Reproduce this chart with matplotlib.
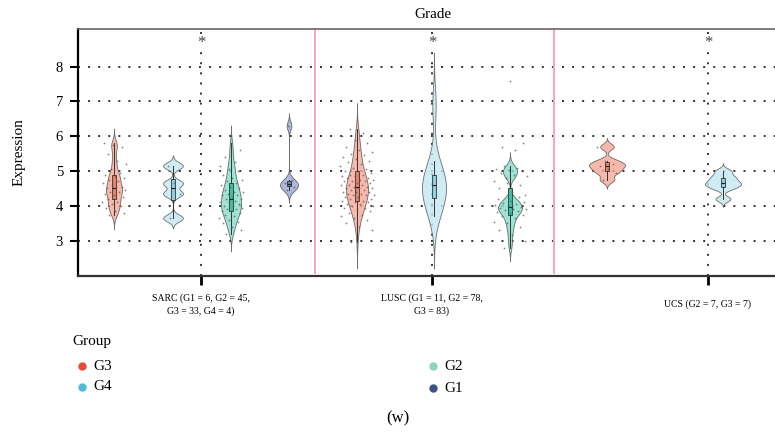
import numpy as np
import matplotlib
matplotlib.use('Agg')
import matplotlib.pyplot as plt
from matplotlib.lines import Line2D

plt.rcParams['font.family'] = ['Liberation Serif', 'DejaVu Serif']

# 分类与标签
categories = ['SARC', 'LUSC', 'UCS']
cat_labels = ['SARC (G1 = 6, G2 = 45,\nG3 = 33, G4 = 4)',
              'LUSC (G1 = 11, G2 = 78,\nG3 = 83)',
              'UCS (G2 = 7, G3 = 7)']
groups = ['G3', 'G4', 'G2', 'G1']
legend_colors = ['#E64B35', '#4DBBD5', '#91D1C2', '#3C5488']
fill_colors = {'G3': '#F5A896', 'G4': '#C4E8F2', 'G2': '#86DDC9', 'G1': '#97A5D2'}
box_colors = {'G3': '#E8826C', 'G4': '#8FCFE0', 'G2': '#3FBFA3', 'G1': '#6F7FB5'}

# 各组表达值
sarc_g3 = [3.75, 3.8, 3.85, 3.95, 4.0, 4.05, 4.1, 4.1, 4.2, 4.25, 4.3, 4.35, 4.4, 4.4,
           4.45, 4.5, 4.5, 4.55, 4.6, 4.65, 4.7, 4.75, 4.8, 4.85, 4.9, 4.95, 5.05, 5.2,
           5.3, 5.5, 5.7, 5.75, 5.8]
sarc_g4 = [3.65, 4.35, 4.65, 5.15]
sarc_g2 = [3.2, 3.3, 3.4, 3.5, 3.55, 3.6, 3.65, 3.7, 3.75, 3.8, 3.85, 3.85, 3.9, 3.9,
           3.95, 4.0, 4.0, 4.05, 4.1, 4.1, 4.15, 4.2, 4.2, 4.25, 4.3, 4.3, 4.35, 4.4,
           4.4, 4.45, 4.5, 4.55, 4.6, 4.65, 4.7, 4.75, 4.8, 4.9, 5.0, 5.05, 5.15, 5.25,
           5.4, 5.6, 5.8]
sarc_g1 = [4.45, 4.55, 4.6, 4.65, 4.75, 6.3]
lusc_g3 = [2.95, 3.3, 3.4, 3.5, 3.6, 3.65, 3.7, 3.75, 3.8, 3.85, 3.9, 3.95, 3.95, 4.0,
           4.0, 4.05, 4.05, 4.1, 4.1, 4.15, 4.15, 4.2, 4.2, 4.25, 4.25, 4.3, 4.3, 4.3,
           4.35, 4.35, 4.4, 4.4, 4.4, 4.45, 4.45, 4.5, 4.5, 4.5, 4.55, 4.55, 4.6, 4.6,
           4.6, 4.65, 4.65, 4.7, 4.7, 4.7, 4.75, 4.75, 4.8, 4.8, 4.85, 4.85, 4.9, 4.9,
           4.95, 5.0, 5.0, 5.05, 5.1, 5.15, 5.2, 5.25, 5.3, 5.35, 5.4, 5.45, 5.5, 5.55,
           5.6, 5.7, 5.8, 5.9, 6.0, 6.1, 6.2]
lusc_g4 = [3.7, 3.95, 4.15, 4.3, 4.45, 4.6, 4.7, 4.8, 4.95, 5.3, 6.9]
lusc_g2 = [2.8, 3.0, 3.15, 3.3, 3.4, 3.5, 3.55, 3.65, 3.7, 3.75, 3.8, 3.82, 3.85, 3.88,
           3.9, 3.92, 3.95, 3.97, 4.0, 4.02, 4.05, 4.08, 4.1, 4.15, 4.2, 4.25, 4.8, 4.85,
           4.9, 4.95, 5.0, 5.02, 5.05, 5.1, 5.15]
lusc_g2_extra_pts = [4.3, 4.4, 4.5, 4.6, 4.65, 4.7, 5.6, 5.7, 5.8, 7.6]
ucs_g3 = [4.75, 4.95, 5.05, 5.15, 5.2, 5.3, 5.7]
ucs_g4 = [4.2, 4.5, 4.6, 4.65, 4.75, 4.85, 5.0]

# (组, 数据, 额外散点, x位置, 带宽, 半宽, 抖动宽度, 是否画点)
violins = [
    ('G3', sarc_g3, [], 36, 0.14, 8, 12, True),
    ('G4', sarc_g4, [], 95, 0.10, 10, 8, True),
    ('G2', sarc_g2, [], 153, 0.17, 10, 12, True),
    ('G1', sarc_g1, [], 211, 0.12, 9, 6, True),
    ('G3', lusc_g3, [], 279, 0.25, 11, 17, True),
    ('G4', lusc_g4, [], 356, 0.5, 12, 0, False),
    ('G2', lusc_g2, lusc_g2_extra_pts, 432, 0.13, 12, 17, True),
    ('G3', ucs_g3, [], 529, 0.085, 18, 10, True),
    ('G4', ucs_g4, [], 645, 0.075, 18, 0, False),
]
cat_pos = [123, 354, 630]
sep_pos = [237, 476]

fig = plt.figure(figsize=(7.75, 4.32), dpi=100)
ax = fig.add_axes([78 / 775, 1 - 276 / 432, 697 / 775, 247 / 432])

for g, vals, extra, x, bw, hw, jw, show_pts in violins:
    vals = np.array(vals)
    y = np.linspace(vals.min() - 3 * bw, vals.max() + 3 * bw, 400)
    dens = np.exp(-0.5 * ((y[:, None] - vals[None, :]) / bw) ** 2).sum(axis=1)
    dens = dens / dens.max() * hw
    ax.fill_betweenx(y, x - dens, x + dens, facecolor=fill_colors[g],
                     edgecolor='#4d4d4d', linewidth=0.6, alpha=0.8, zorder=2)
    bp = ax.boxplot(vals, positions=[x], widths=4, showfliers=False, patch_artist=True,
                    manage_ticks=False, showcaps=False)
    for b in bp['boxes']:
        b.set_facecolor(box_colors[g])
        b.set_edgecolor('#333333')
        b.set_linewidth(0.6)
        b.set_zorder(3)
    for w in bp['whiskers']:
        w.set_color('#333333')
        w.set_linewidth(0.7)
        w.set_zorder(3)
    for m in bp['medians']:
        m.set_color('#222222')
        m.set_linewidth(0.8)
        m.set_zorder(4)
    if show_pts:
        pts = np.concatenate([vals, np.array(extra)]) if extra else vals
        idx = np.arange(len(pts))
        offs = ((idx * 0.618034 + 0.31) % 1 - 0.5) * 2 * jw
        ax.plot(x + offs, pts, 'o', ms=1.3, color='#555555', alpha=0.7,
                markeredgewidth=0, zorder=5)

for sx in sep_pos:
    ax.axvline(sx, ymin=0.012, ymax=0.996, color='#F7A8C4', lw=1.5, zorder=1.5)

for cx in cat_pos:
    ax.text(cx, 8.68, '*', ha='center', va='center', fontsize=12, color='#444444',
            zorder=6, bbox=dict(facecolor='white', edgecolor='none', pad=0.3))

ax.set_xlim(0, 697)
ax.set_ylim(1.985, 9.08)
ax.set_yticks([3, 4, 5, 6, 7, 8])
ax.set_xticks(cat_pos)
ax.set_xticklabels(cat_labels, fontsize=7, linespacing=1.45)
for lab in ax.get_xticklabels():
    lab.set_verticalalignment('center')
ax.tick_params(axis='x', length=6.5, width=2, pad=14)
ax.tick_params(axis='y', length=5.8, width=1.5, pad=5, labelsize=10.5)

ax.grid(True, color='black', linestyle=(0, (1.3, 5.3)), linewidth=1.1)
ax.set_axisbelow(True)
ax.spines['right'].set_visible(False)
ax.spines['top'].set_color('#666666')
ax.spines['top'].set_linewidth(1.2)
ax.spines['left'].set_linewidth(1.6)
ax.spines['bottom'].set_linewidth(1.6)
ax.spines['bottom'].set_color('#333333')

ax.set_ylabel('Expression', fontsize=11, labelpad=22)
fig.text(433 / 775, 1 - 15 / 432, 'Grade', ha='center', va='center', fontsize=11)

# 图例
fig.text(72 / 775, 1 - 342 / 432, 'Group', ha='left', va='center', fontsize=11)
leg_xy = [(82, 366), (82, 387), (433, 366), (433, 388)]
for (lx, ly), g, c in zip(leg_xy, groups, legend_colors):
    fig.add_artist(Line2D([lx / 775], [1 - ly / 432], marker='o', ms=5, color=c,
                          linestyle='None', transform=fig.transFigure))
    fig.text((lx + 11) / 775, 1 - ly / 432, g, ha='left', va='center', fontsize=11)

fig.text(398 / 775, 1 - 418 / 432, '(w)', ha='center', va='center', fontsize=12)

fig.savefig('out.png', dpi=100)
